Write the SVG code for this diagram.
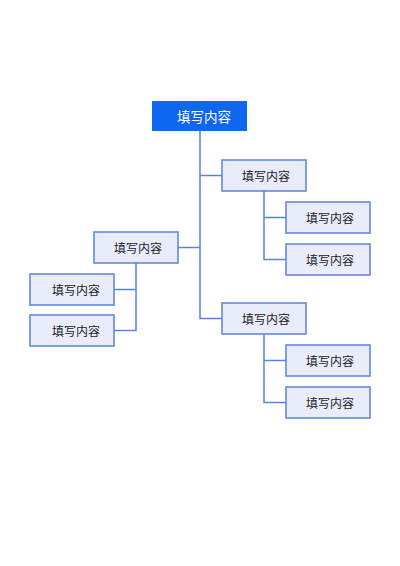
<svg xmlns="http://www.w3.org/2000/svg" width="400" height="566" viewBox="0 0 400 566">
<style>
.bg{fill:#ffffff}
.box{fill:#e9ecfb;stroke:#5b82db;stroke-width:1.5}
.root{fill:#0f66f0}
.t{font-family:"Noto Sans CJK SC","Noto Sans",sans-serif;font-size:12px;fill:#222;text-anchor:middle;dominant-baseline:central}
.rt{font-family:"Noto Sans CJK SC","Noto Sans",sans-serif;font-size:13.5px;fill:#ffffff;text-anchor:middle;dominant-baseline:central}
.ln{fill:none;stroke:#5b82db;stroke-width:1.5}
</style>
<rect class="bg" x="0" y="0" width="400" height="566"/>
<g id="connectors">
<path class="ln" d="M200,131 V318.5 H222"/>
<path class="ln" d="M200,175.5 H222"/>
<path class="ln" d="M200,247.5 H178"/>
<path class="ln" d="M264,191 V259.5 H286 M264,217.5 H286"/>
<path class="ln" d="M136,263 V330.5 H114 M136,289.5 H114"/>
<path class="ln" d="M264,334 V402.5 H286 M264,360.5 H286"/>
</g>
<g id="root"><rect class="root" x="152" y="101" width="95" height="30"/><text class="rt" x="204" y="116">填写内容</text></g>
<g id="r1"><rect class="box" x="222" y="160" width="84" height="31"/><text class="t" x="266" y="175.5">填写内容</text></g>
<g id="r1a"><rect class="box" x="286" y="202" width="84" height="31"/><text class="t" x="330" y="217.5">填写内容</text></g>
<g id="r1b"><rect class="box" x="286" y="244" width="84" height="31"/><text class="t" x="330" y="259.5">填写内容</text></g>
<g id="l1"><rect class="box" x="94" y="232" width="84" height="31"/><text class="t" x="138" y="247.5">填写内容</text></g>
<g id="l1a"><rect class="box" x="30" y="274" width="84" height="31"/><text class="t" x="76" y="289.5">填写内容</text></g>
<g id="l1b"><rect class="box" x="30" y="315" width="84" height="31"/><text class="t" x="76" y="330.5">填写内容</text></g>
<g id="r2"><rect class="box" x="222" y="303" width="84" height="31"/><text class="t" x="266" y="318.5">填写内容</text></g>
<g id="r2a"><rect class="box" x="286" y="345" width="84" height="31"/><text class="t" x="330" y="360.5">填写内容</text></g>
<g id="r2b"><rect class="box" x="286" y="387" width="84" height="31"/><text class="t" x="330" y="402.5">填写内容</text></g>
</svg>
